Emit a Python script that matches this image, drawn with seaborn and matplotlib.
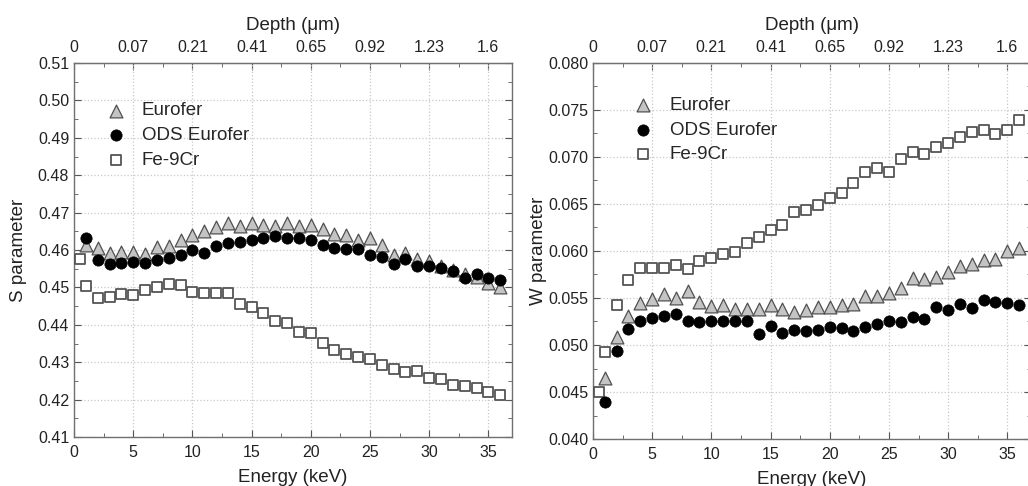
import numpy as np
import pandas as pd
import matplotlib
matplotlib.use('Agg')
import matplotlib.pyplot as plt
from matplotlib.ticker import MultipleLocator
import seaborn as sns

# energias (keV)
energia = list(range(1, 37))
energia_fe = [0.5] + energia

depth_pos = [0, 5, 10, 15, 20, 25, 30, 35]
depth_lab = ['0', '0.07', '0.21', '0.41', '0.65', '0.92', '1.23', '1.6']

# S parameter
s_eurofer = [0.4613, 0.4605, 0.4593, 0.4594, 0.4595, 0.4590, 0.4607, 0.4610, 0.4626, 0.4639,
             0.4651, 0.4662, 0.4671, 0.4663, 0.4673, 0.4668, 0.4663, 0.4671, 0.4663, 0.4668,
             0.4655, 0.4644, 0.4639, 0.4628, 0.4631, 0.4613, 0.4587, 0.4591, 0.4576, 0.4571,
             0.4557, 0.4547, 0.4537, 0.4528, 0.4512, 0.4501]
s_ods = [0.4633, 0.4572, 0.4563, 0.4565, 0.4569, 0.4565, 0.4572, 0.4580, 0.4587, 0.4600,
         0.4593, 0.4611, 0.4618, 0.4622, 0.4628, 0.4633, 0.4637, 0.4631, 0.4631, 0.4628,
         0.4614, 0.4605, 0.4602, 0.4602, 0.4587, 0.4582, 0.4563, 0.4576, 0.4558, 0.4557,
         0.4552, 0.4543, 0.4526, 0.4535, 0.4526, 0.4521]
s_fe9cr = [0.4576, 0.4505, 0.4472, 0.4475, 0.4482, 0.4481, 0.4493, 0.4502, 0.4509, 0.4507,
           0.4489, 0.4486, 0.4486, 0.4486, 0.4456, 0.4447, 0.4431, 0.4409, 0.4406, 0.4382,
           0.4379, 0.4352, 0.4334, 0.4322, 0.4313, 0.4309, 0.4293, 0.4282, 0.4273, 0.4277,
           0.4257, 0.4254, 0.4240, 0.4237, 0.4230, 0.4221, 0.4211]

# W parameter
w_eurofer = [0.0465, 0.0508, 0.0531, 0.0545, 0.0549, 0.0554, 0.0550, 0.0557, 0.0546, 0.0541,
             0.0543, 0.0538, 0.0538, 0.0538, 0.0543, 0.0538, 0.0535, 0.0537, 0.0540, 0.0540,
             0.0543, 0.0544, 0.0552, 0.0552, 0.0555, 0.0561, 0.0571, 0.0570, 0.0572, 0.0578,
             0.0584, 0.0586, 0.0590, 0.0592, 0.0600, 0.0603]
w_ods = [0.0439, 0.0494, 0.0517, 0.0526, 0.0529, 0.0531, 0.0533, 0.0526, 0.0524, 0.0526,
         0.0526, 0.0526, 0.0526, 0.0512, 0.0520, 0.0513, 0.0516, 0.0515, 0.0516, 0.0519,
         0.0518, 0.0515, 0.0519, 0.0522, 0.0526, 0.0524, 0.0530, 0.0528, 0.0540, 0.0537,
         0.0544, 0.0539, 0.0548, 0.0546, 0.0545, 0.0543]
w_fe9cr = [0.0450, 0.0493, 0.0543, 0.0569, 0.0582, 0.0582, 0.0582, 0.0585, 0.0581, 0.0589,
           0.0593, 0.0597, 0.0599, 0.0609, 0.0615, 0.0622, 0.0628, 0.0642, 0.0644, 0.0649,
           0.0656, 0.0662, 0.0672, 0.0684, 0.0688, 0.0684, 0.0698, 0.0705, 0.0703, 0.0711,
           0.0715, 0.0721, 0.0727, 0.0729, 0.0724, 0.0729, 0.0739]

sns.set_style('ticks')
plt.rcParams['font.family'] = ['Liberation Sans', 'DejaVu Sans']

estilos = {
    'Eurofer': dict(marker='^', s=85, color='#c4c4c4', edgecolor='#505050', linewidth=0.9),
    'ODS Eurofer': dict(marker='o', s=66, color='black', edgecolor='black', linewidth=0.5),
    'Fe-9Cr': dict(marker='s', s=52, color='white', edgecolor='#555555', linewidth=1.3),
}

fig = plt.figure(figsize=(10.28, 4.86), dpi=100)
ax1 = fig.add_axes([0.072, 0.1008, 0.4261, 0.7695])
ax2 = fig.add_axes([0.5768, 0.0967, 0.4261, 0.7737])

paineis = [
    (ax1, s_eurofer, s_ods, s_fe9cr, (0.41, 0.51), 0.01, 0.005, 'S parameter', '{:.2f}', (0.035, 0.915), 8),
    (ax2, w_eurofer, w_ods, w_fe9cr, (0.040, 0.080), 0.005, 0.0025, 'W parameter', '{:.3f}', (0.055, 0.93), 1),
]

for ax, eur, ods, fe, ylim, maj, mnr, ylab, fmt, leg_pos, ypad in paineis:
    sns.scatterplot(x=energia, y=eur, ax=ax, label='Eurofer', zorder=3, **estilos['Eurofer'])
    sns.scatterplot(x=energia, y=ods, ax=ax, label='ODS Eurofer', zorder=4, **estilos['ODS Eurofer'])
    sns.scatterplot(x=energia_fe, y=fe, ax=ax, label='Fe-9Cr', zorder=3, **estilos['Fe-9Cr'])

    ax.set_xlim(0, 37)
    ax.set_ylim(*ylim)
    ax.xaxis.set_major_locator(MultipleLocator(5))
    ax.xaxis.set_minor_locator(MultipleLocator(2.5))
    ax.yaxis.set_minor_locator(MultipleLocator(mnr))
    yt = np.arange(ylim[0], ylim[1] + maj / 2, maj)
    ax.set_yticks(yt)
    ax.set_yticklabels([fmt.format(v) for v in yt])
    ax.grid(True, which='major', linestyle=':', color='#c8c8c8', linewidth=0.9)
    ax.set_axisbelow(True)
    ax.tick_params(which='both', direction='in', top=False, right=True, colors='#555555',
                   labelcolor='#222222', labelsize=11.5)
    ax.tick_params(axis='x', which='major', pad=6)
    ax.tick_params(which='major', length=5)
    ax.tick_params(which='minor', length=3)
    for sp in ax.spines.values():
        sp.set_color('#707070')
        sp.set_linewidth(1.0)
    ax.set_xlabel('Energy (keV)', fontsize=13.5, color='#222222', labelpad=6)
    ax.set_ylabel(ylab, fontsize=13.5, color='#222222', labelpad=ypad)

    top = ax.secondary_xaxis('top')
    top.set_xticks(depth_pos)
    top.set_xticklabels(depth_lab)
    top.xaxis.set_minor_locator(MultipleLocator(2.5))
    top.tick_params(which='both', direction='in', colors='#555555', labelcolor='#222222', labelsize=11.5)
    top.tick_params(which='major', length=5, pad=6)
    top.tick_params(which='minor', length=3)
    top.spines['top'].set_color('#707070')
    top.set_xlabel('Depth (\u03bcm)', fontsize=13.5, color='#222222', labelpad=7)

    ax.legend(loc='upper left', bbox_to_anchor=leg_pos, frameon=False, fontsize=13.5,
              handletextpad=0.4, labelspacing=0.4, borderaxespad=0)

fig.savefig('out.png', dpi=100)
